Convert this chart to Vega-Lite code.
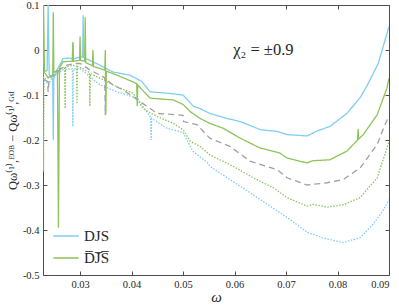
{
"$schema": "https://vega.github.io/schema/vega-lite/v6.json",
"width": 346, "height": 270,
"autosize": "none",
"padding": {"left": 43, "top": 5, "right": 10, "bottom": 31},
"background": "white",
"config": {
 "view": {"stroke": null},
 "font": "Liberation Serif",
 "axis": {"labelFont": "Liberation Serif", "titleFont": "Liberation Serif", "labelFontSize": 10.5, "labelColor": "#262626", "domainColor": "#4d4d4d", "tickColor": "#4d4d4d", "grid": false, "titleColor": "#262626", "titleFontWeight": "normal"},
 "legend": {"labelFont": "Liberation Serif", "labelFontSize": 15, "labelColor": "#262626", "symbolType": "stroke", "symbolSize": 650, "symbolStrokeWidth": 1.6, "rowPadding": -1, "padding": 0, "offset": 9}
},
"layer": [
 {
  "data": {"values": [
{"s":"B2","w":0.0228,"q":-0.060},{"s":"B2","w":0.0238,"q":-0.077},{"s":"B2","w":0.0247,"q":-0.060},{"s":"B2","w":0.0267,"q":-0.044},{"s":"B2","w":0.0285,"q":-0.042},{"s":"B2","w":0.0286,"q":-0.170},{"s":"B2","w":0.0287,"q":-0.042},{"s":"B2","w":0.0300,"q":-0.041},{"s":"B2","w":0.0339,"q":-0.078},{"s":"B2","w":0.0372,"q":-0.093},{"s":"B2","w":0.0411,"q":-0.107},{"s":"B2","w":0.0436,"q":-0.148},{"s":"B2","w":0.0437,"q":-0.150},{"s":"B2","w":0.0438,"q":-0.200},{"s":"B2","w":0.0439,"q":-0.152},{"s":"B2","w":0.0469,"q":-0.174},{"s":"B2","w":0.0500,"q":-0.183},{"s":"B2","w":0.0519,"q":-0.225},{"s":"B2","w":0.0547,"q":-0.250},{"s":"B2","w":0.0552,"q":-0.258},{"s":"B2","w":0.0591,"q":-0.288},{"s":"B2","w":0.0630,"q":-0.317},{"s":"B2","w":0.0669,"q":-0.347},{"s":"B2","w":0.0702,"q":-0.372},{"s":"B2","w":0.0741,"q":-0.405},{"s":"B2","w":0.0770,"q":-0.417},{"s":"B2","w":0.0811,"q":-0.428},{"s":"B2","w":0.0844,"q":-0.417},{"s":"B2","w":0.0869,"q":-0.387},{"s":"B2","w":0.0888,"q":-0.358},{"s":"B2","w":0.0900,"q":-0.333},
{"s":"G2","w":0.0228,"q":-0.070},{"s":"G2","w":0.0229,"q":-0.270},{"s":"G2","w":0.0230,"q":-0.065},{"s":"G2","w":0.0240,"q":-0.060},{"s":"G2","w":0.0255,"q":-0.050},{"s":"G2","w":0.0262,"q":-0.041},{"s":"G2","w":0.0270,"q":-0.038},{"s":"G2","w":0.0271,"q":-0.130},{"s":"G2","w":0.0272,"q":-0.038},{"s":"G2","w":0.0286,"q":-0.034},{"s":"G2","w":0.0293,"q":-0.036},{"s":"G2","w":0.0294,"q":-0.120},{"s":"G2","w":0.0295,"q":-0.037},{"s":"G2","w":0.0305,"q":-0.041},{"s":"G2","w":0.0318,"q":-0.050},{"s":"G2","w":0.0319,"q":-0.125},{"s":"G2","w":0.0320,"q":-0.052},{"s":"G2","w":0.0339,"q":-0.063},{"s":"G2","w":0.0372,"q":-0.082},{"s":"G2","w":0.0403,"q":-0.096},{"s":"G2","w":0.0422,"q":-0.130},{"s":"G2","w":0.0450,"q":-0.148},{"s":"G2","w":0.0481,"q":-0.163},{"s":"G2","w":0.0500,"q":-0.177},{"s":"G2","w":0.0514,"q":-0.203},{"s":"G2","w":0.0533,"q":-0.214},{"s":"G2","w":0.0552,"q":-0.233},{"s":"G2","w":0.0597,"q":-0.258},{"s":"G2","w":0.0636,"q":-0.284},{"s":"G2","w":0.0675,"q":-0.306},{"s":"G2","w":0.0702,"q":-0.328},{"s":"G2","w":0.0741,"q":-0.347},{"s":"G2","w":0.0752,"q":-0.343},{"s":"G2","w":0.0780,"q":-0.349},{"s":"G2","w":0.0811,"q":-0.344},{"s":"G2","w":0.0844,"q":-0.328},{"s":"G2","w":0.0877,"q":-0.284},{"s":"G2","w":0.0896,"q":-0.218},{"s":"G2","w":0.0900,"q":-0.203},
{"s":"K","w":0.0228,"q":-0.065},{"s":"K","w":0.0237,"q":-0.070},{"s":"K","w":0.0238,"q":-0.093},{"s":"K","w":0.0240,"q":-0.065},{"s":"K","w":0.0255,"q":-0.050},{"s":"K","w":0.0270,"q":-0.035},{"s":"K","w":0.0290,"q":-0.030},{"s":"K","w":0.0300,"q":-0.030},{"s":"K","w":0.0320,"q":-0.045},{"s":"K","w":0.0339,"q":-0.056},{"s":"K","w":0.0348,"q":-0.062},{"s":"K","w":0.0349,"q":-0.145},{"s":"K","w":0.0350,"q":-0.064},{"s":"K","w":0.0364,"q":-0.078},{"s":"K","w":0.0384,"q":-0.089},{"s":"K","w":0.0417,"q":-0.115},{"s":"K","w":0.0450,"q":-0.141},{"s":"K","w":0.0500,"q":-0.145},{"s":"K","w":0.0501,"q":-0.159},{"s":"K","w":0.0527,"q":-0.166},{"s":"K","w":0.0552,"q":-0.196},{"s":"K","w":0.0591,"q":-0.214},{"s":"K","w":0.0630,"q":-0.247},{"s":"K","w":0.0683,"q":-0.266},{"s":"K","w":0.0702,"q":-0.284},{"s":"K","w":0.0741,"q":-0.300},{"s":"K","w":0.0780,"q":-0.295},{"s":"K","w":0.0811,"q":-0.288},{"s":"K","w":0.0844,"q":-0.262},{"s":"K","w":0.0877,"q":-0.210},{"s":"K","w":0.0892,"q":-0.166},{"s":"K","w":0.0900,"q":-0.148},
{"s":"B1","w":0.0228,"q":-0.050},{"s":"B1","w":0.0236,"q":-0.045},{"s":"B1","w":0.0238,"q":0.100},{"s":"B1","w":0.0240,"q":-0.055},{"s":"B1","w":0.0247,"q":-0.065},{"s":"B1","w":0.0248,"q":-0.200},{"s":"B1","w":0.0249,"q":-0.062},{"s":"B1","w":0.0255,"q":-0.045},{"s":"B1","w":0.0262,"q":-0.030},{"s":"B1","w":0.0267,"q":-0.019},{"s":"B1","w":0.0280,"q":-0.018},{"s":"B1","w":0.0285,"q":-0.020},{"s":"B1","w":0.0286,"q":0.015},{"s":"B1","w":0.0287,"q":-0.020},{"s":"B1","w":0.0300,"q":-0.015},{"s":"B1","w":0.0305,"q":-0.016},{"s":"B1","w":0.0306,"q":0.077},{"s":"B1","w":0.0307,"q":-0.017},{"s":"B1","w":0.0319,"q":-0.023},{"s":"B1","w":0.0339,"q":-0.034},{"s":"B1","w":0.0364,"q":-0.049},{"s":"B1","w":0.0397,"q":-0.056},{"s":"B1","w":0.0420,"q":-0.070},{"s":"B1","w":0.0436,"q":-0.093},{"s":"B1","w":0.0469,"q":-0.096},{"s":"B1","w":0.0500,"q":-0.100},{"s":"B1","w":0.0520,"q":-0.125},{"s":"B1","w":0.0533,"q":-0.130},{"s":"B1","w":0.0552,"q":-0.141},{"s":"B1","w":0.0585,"q":-0.152},{"s":"B1","w":0.0611,"q":-0.159},{"s":"B1","w":0.0650,"q":-0.177},{"s":"B1","w":0.0683,"q":-0.181},{"s":"B1","w":0.0702,"q":-0.188},{"s":"B1","w":0.0741,"q":-0.191},{"s":"B1","w":0.0760,"q":-0.180},{"s":"B1","w":0.0785,"q":-0.170},{"s":"B1","w":0.0818,"q":-0.141},{"s":"B1","w":0.0844,"q":-0.106},{"s":"B1","w":0.0857,"q":-0.080},{"s":"B1","w":0.0879,"q":-0.030},{"s":"B1","w":0.0900,"q":0.052},
{"s":"G1","w":0.0228,"q":-0.060},{"s":"G1","w":0.0229,"q":0.100},{"s":"G1","w":0.0231,"q":-0.050},{"s":"G1","w":0.0238,"q":-0.062},{"s":"G1","w":0.0247,"q":-0.055},{"s":"G1","w":0.0248,"q":0.084},{"s":"G1","w":0.0249,"q":-0.050},{"s":"G1","w":0.0256,"q":-0.045},{"s":"G1","w":0.0258,"q":-0.395},{"s":"G1","w":0.0260,"q":-0.040},{"s":"G1","w":0.0267,"q":-0.026},{"s":"G1","w":0.0285,"q":-0.025},{"s":"G1","w":0.0286,"q":0.018},{"s":"G1","w":0.0287,"q":-0.025},{"s":"G1","w":0.0299,"q":-0.023},{"s":"G1","w":0.0300,"q":0.030},{"s":"G1","w":0.0301,"q":-0.023},{"s":"G1","w":0.0309,"q":-0.025},{"s":"G1","w":0.0310,"q":0.073},{"s":"G1","w":0.0311,"q":-0.028},{"s":"G1","w":0.0324,"q":-0.035},{"s":"G1","w":0.0325,"q":0.000},{"s":"G1","w":0.0326,"q":-0.037},{"s":"G1","w":0.0339,"q":-0.041},{"s":"G1","w":0.0348,"q":-0.045},{"s":"G1","w":0.0349,"q":0.000},{"s":"G1","w":0.0350,"q":-0.143},{"s":"G1","w":0.0351,"q":-0.047},{"s":"G1","w":0.0372,"q":-0.056},{"s":"G1","w":0.0403,"q":-0.071},{"s":"G1","w":0.0410,"q":-0.075},{"s":"G1","w":0.0411,"q":-0.125},{"s":"G1","w":0.0412,"q":-0.078},{"s":"G1","w":0.0436,"q":-0.107},{"s":"G1","w":0.0481,"q":-0.111},{"s":"G1","w":0.0500,"q":-0.121},{"s":"G1","w":0.0514,"q":-0.137},{"s":"G1","w":0.0533,"q":-0.152},{"s":"G1","w":0.0552,"q":-0.163},{"s":"G1","w":0.0578,"q":-0.174},{"s":"G1","w":0.0611,"q":-0.196},{"s":"G1","w":0.0650,"q":-0.218},{"s":"G1","w":0.0688,"q":-0.229},{"s":"G1","w":0.0702,"q":-0.240},{"s":"G1","w":0.0741,"q":-0.251},{"s":"G1","w":0.0752,"q":-0.246},{"s":"G1","w":0.0785,"q":-0.244},{"s":"G1","w":0.0818,"q":-0.225},{"s":"G1","w":0.0839,"q":-0.200},{"s":"G1","w":0.0840,"q":-0.175},{"s":"G1","w":0.0841,"q":-0.198},{"s":"G1","w":0.0850,"q":-0.188},{"s":"G1","w":0.0877,"q":-0.144},{"s":"G1","w":0.0896,"q":-0.085},{"s":"G1","w":0.0900,"q":-0.063}
  ]},
  "mark": {"type": "line", "strokeWidth": 1.3, "clip": true},
  "encoding": {
   "x": {"field": "w", "type": "quantitative", "scale": {"domain": [0.0228, 0.09], "nice": false, "zero": false},
         "axis": {"values": [0.03, 0.04, 0.05, 0.06, 0.07, 0.08, 0.09], "format": ".2f", "title": "ω", "titleFontStyle": "italic", "titleFontSize": 15, "titlePadding": 0, "tickSize": -4, "labelPadding": 8, "labelBaseline": "top", "labelFont": "Liberation Serif", "titleFont": "Liberation Serif"}},
   "y": {"field": "q", "type": "quantitative", "scale": {"domain": [-0.5, 0.1], "nice": false, "zero": false},
         "axis": {"values": [-0.5, -0.4, -0.3, -0.2, -0.1, 0, 0.1], "format": ".1~f", "labelExpr": "replace(datum.label, '−', '-')", "title": "Qω⁽¹⁾,ᴱᴼᴮ − Qω⁽¹⁾,ᴳˢᶠ", "titleFontSize": 12.5, "titlePadding": 3, "tickSize": -4, "labelPadding": 8, "labelAlign": "right", "labelFont": "Liberation Serif", "titleFont": "Liberation Serif"}},
   "color": {"field": "s", "type": "nominal",
             "scale": {"domain": ["B2", "G2", "K", "B1", "G1"], "range": ["#80cdf2", "#8dc45a", "#a0a0a0", "#80cdf2", "#8dc45a"]},
             "legend": {"values": ["B1", "G1"], "labelExpr": "datum.value == 'B1' ? 'DJS' : 'D̅J̅S̅'", "title": null, "orient": "bottom-left", "labelFont": "Liberation Serif"}},
   "strokeDash": {"field": "s", "type": "nominal",
             "scale": {"domain": ["B2", "G2", "K", "B1", "G1"], "range": [[1.5, 1.5], [1.5, 1.5], [6, 4], [1, 0], [1, 0]]}, "legend": null}
  }
 },
 {
  "data": {"values": [{"w": 0.0656, "q": 0.0, "t": "χ₂ = ±0.9"}]},
  "mark": {"type": "text", "font": "Liberation Serif", "fontSize": 16.5, "color": "#262626"},
  "encoding": {
   "x": {"field": "w", "type": "quantitative", "axis": {"orient": "top", "labels": false, "title": null, "tickSize": -4, "values": [0.03, 0.04, 0.05, 0.06, 0.07, 0.08, 0.09]}},
   "y": {"field": "q", "type": "quantitative", "axis": {"orient": "right", "labels": false, "title": null, "tickSize": -4, "values": [-0.5, -0.4, -0.3, -0.2, -0.1, 0, 0.1]}},
   "text": {"field": "t"}
  }
 }
],
"resolve": {"axis": {"x": "independent", "y": "independent"}}
}
